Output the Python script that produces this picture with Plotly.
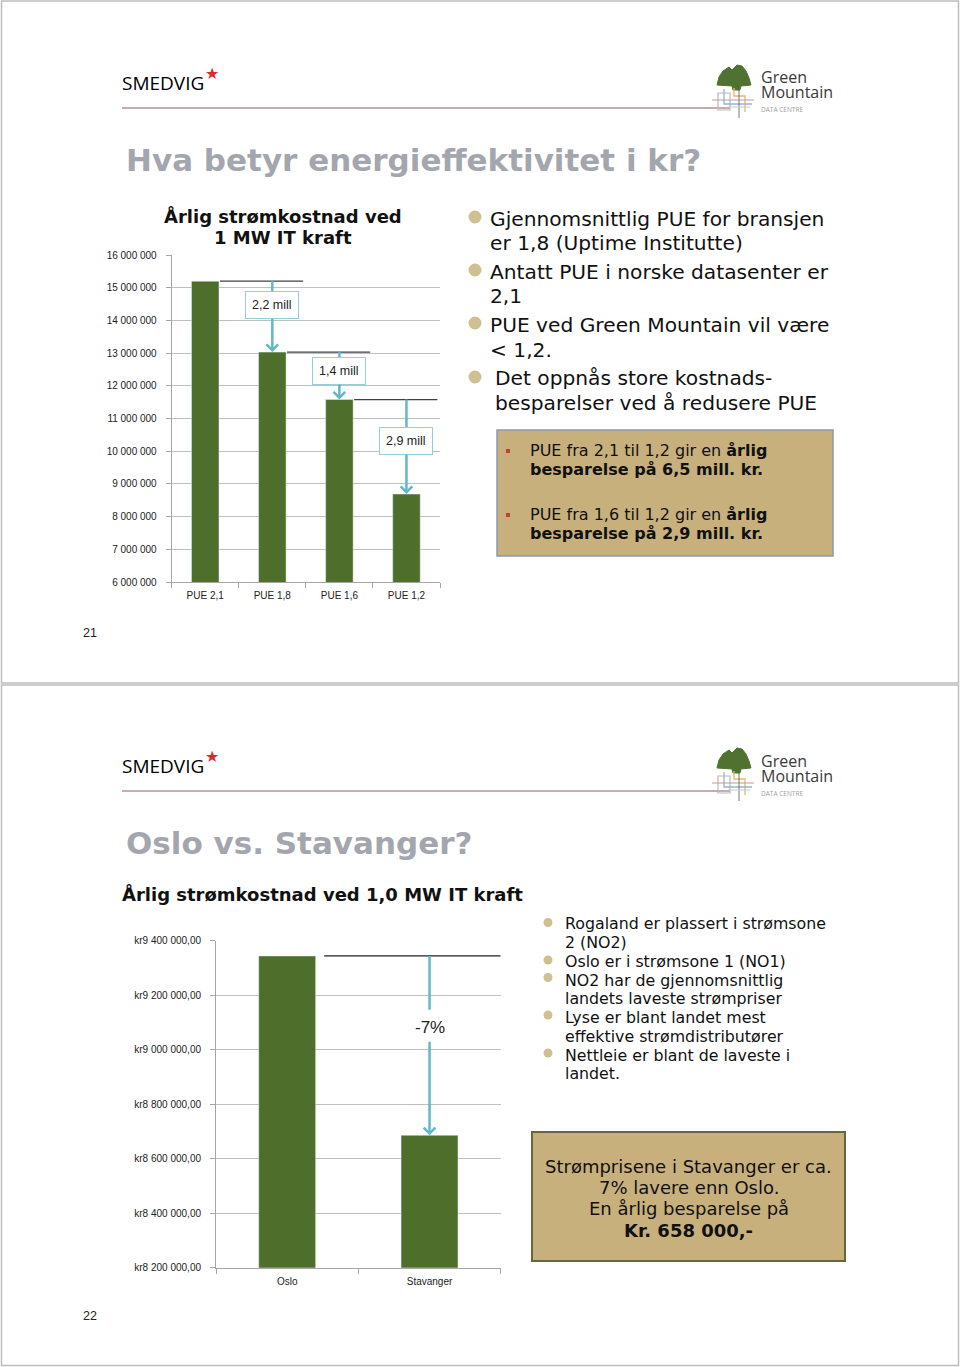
import plotly.graph_objects as go

W, H = 960, 1367

# ---------------- data: slide 1 ----------------
pue_labels = ["PUE 2,1", "PUE 1,8", "PUE 1,6", "PUE 1,2"]
pue_cost = [15_200_000, 13_030_000, 11_580_000, 8_690_000]
pue_saving_labels = ["2,2 mill", "1,4 mill", "2,9 mill"]

# ---------------- data: slide 2 ----------------
city_labels = ["Oslo", "Stavanger"]
city_cost = [9_344_000, 8_686_000]
city_change_label = "-7%"

# ---------------- style ----------------
GREEN = "#4E6F2B"
TAN = "#C8B07D"
DOT = "#CFC092"
CYAN = "#62B8C9"
TITLE_GRAY = "#A3A6AD"
VERD = "DejaVu Sans"
CAL = "Liberation Sans"
OPEN = "Open Sans"
OFF2 = 683


def px(x):
    return x / W


def py(y):
    return 1 - y / H


fig = go.Figure()

fig.add_trace(go.Bar(x=pue_labels, y=pue_cost, marker_color=GREEN, width=0.41,
                     xaxis="x", yaxis="y", showlegend=False, hoverinfo="skip"))
fig.add_trace(go.Bar(x=city_labels, y=city_cost, marker_color=GREEN, width=0.40,
                     xaxis="x2", yaxis="y2", showlegend=False, hoverinfo="skip"))

axis_common = dict(showline=True, linecolor="#A6A6A6", linewidth=1, ticks="outside",
                   ticklen=5, tickcolor="#A6A6A6", zeroline=False, fixedrange=True,
                   automargin=False)

fig.update_layout(
    width=W, height=H, margin=dict(l=0, r=0, t=0, b=0, pad=0, autoexpand=False),
    autosize=False, showlegend=False,
    paper_bgcolor="white", plot_bgcolor="white",
    separators=", ",
    xaxis=dict(domain=[px(171.7), px(440)], anchor="y", type="category", range=[-0.5, 3.5],
               tickson="boundaries", showgrid=False, ticklabelstandoff=4,
               tickfont=dict(family=CAL, size=10, color="#222"), **axis_common),
    yaxis=dict(domain=[py(582), py(255)], anchor="x", range=[6_000_000, 16_000_000],
               tick0=6_000_000, dtick=1_000_000, tickformat=",d", showgrid=True,
               gridcolor="#BFBFBF", ticklabelstandoff=7,
               tickfont=dict(family=CAL, size=10, color="#222"), **axis_common),
    xaxis2=dict(domain=[px(216), px(500.7)], anchor="y2", type="category", range=[-0.5, 1.5],
                tickson="boundaries", showgrid=False, ticklabelstandoff=4,
                tickfont=dict(family=CAL, size=10, color="#222"), **axis_common),
    yaxis2=dict(domain=[py(1267.7), py(940.7)], anchor="x2", range=[8_200_000, 9_400_000],
                tick0=8_200_000, dtick=200_000, tickprefix="kr", showtickprefix="all",
                tickformat=",.2f", showgrid=True, gridcolor="#BFBFBF", ticklabelstandoff=7,
                tickfont=dict(family=CAL, size=10, color="#222"), **axis_common),
)

shapes = []
annotations = []


def text(x, y, t, size, color="#111", family=VERD, xanchor="left", align="left", yanchor="middle"):
    dx = -3 if xanchor == "left" else 0
    annotations.append(dict(xref="paper", yref="paper", x=px(x + dx), y=py(y), text=t,
                            showarrow=False, xanchor=xanchor, yanchor=yanchor, align=align,
                            font=dict(family=family, size=size, color=color)))


def lines(x, ys, texts, size, color="#111", family=VERD, xanchor="left"):
    for yy, t in zip(ys, texts):
        text(x, yy, t, size, color, family, xanchor=xanchor,
             align=xanchor if xanchor != "center" else "center")


def pline(x0, y0, x1, y1, color, width=1.0):
    shapes.append(dict(type="line", xref="paper", yref="paper", x0=px(x0), y0=py(y0),
                       x1=px(x1), y1=py(y1), line=dict(color=color, width=width)))


def prect(x0, y0, x1, y1, fill, line, width=1.0):
    shapes.append(dict(type="rect", xref="paper", yref="paper", x0=px(x0), y0=py(y0),
                       x1=px(x1), y1=py(y1), fillcolor=fill, line=dict(color=line, width=width),
                       layer="below"))


def pcircle(cx, cy, r, fill):
    shapes.append(dict(type="circle", xref="paper", yref="paper", x0=px(cx - r), y0=py(cy + r),
                       x1=px(cx + r), y1=py(cy - r), fillcolor=fill, line=dict(width=0)))


def ppath(points, fill=None, line=None, width=1.0, closed=True):
    d = "M " + " L ".join(f"{px(a):.5f},{py(b):.5f}" for a, b in points)
    if closed:
        d += " Z"
    s = dict(type="path", xref="paper", yref="paper", path=d,
             line=dict(color=line or "rgba(0,0,0,0)", width=width))
    if fill:
        s["fillcolor"] = fill
    shapes.append(s)


# slide borders
prect(1.5, 1, 958.5, 683, "rgba(0,0,0,0)", "#BDBDBD", 1.5)
prect(1.5, 685, 958.5, 1365.5, "rgba(0,0,0,0)", "#BDBDBD", 1.5)


def header(off):
    text(122.5, 83 + off, "SMEDVIG", 19, "#000000", OPEN)
    text(211.5, 73 + off, "★", 16, "#E3262B", VERD, xanchor="center")
    pline(122, 108 + off, 730, 108 + off, "#B39090", 1.6)
    # Green Mountain logo
    ppath([(717, 85 + off), (719, 77 + off), (723, 71 + off), (729, 67 + off), (732, 70 + off),
           (737, 65 + off), (742, 66 + off), (746, 71 + off), (749, 78 + off), (751, 85 + off),
           (741, 86 + off), (740, 90 + off), (733, 90 + off), (732, 86 + off)],
          fill="#4F7230", line="#4F7230", width=1)
    ppath([(718, 101 + off), (718, 93 + off), (730, 93 + off), (730, 110 + off),
           (718, 110 + off), (718, 101 + off)], line="#B9B9B9", width=1.2, closed=False)
    ppath([(734, 88 + off), (734, 96 + off), (745, 96 + off), (745, 112 + off)],
          line="#E8B66A", width=1.3, closed=False)
    ppath([(724, 89 + off), (724, 104 + off), (752, 104 + off)],
          line="#8FB6D6", width=1.3, closed=False)
    pline(712, 100 + off, 754, 100 + off, "#C49A9A", 1.2)
    pline(739, 90 + off, 739, 118 + off, "#555555", 0.8)
    pline(728, 107 + off, 750, 107 + off, "#C8C8C8", 1.0)
    text(762, 90.5 + off,
         "<span style='font-size:16px'>Green</span><br>"
         "<span style='font-size:16px'>Mountain</span><br>"
         "<span style='font-size:6.5px;color:#A0A0A0'>DATA CENTRE</span>",
         11.3, "#3A3A3A", OPEN)


header(0)
header(OFF2)

# ---------------- slide 1 ----------------
text(127, 160, "<b>Hva betyr energieffektivitet i kr?</b>", 31, TITLE_GRAY, VERD)
lines(283, [216, 237], ["<b>Årlig strømkostnad ved</b>", "<b>1 MW IT kraft</b>"], 18,
      "#111", VERD, xanchor="center")

bullets1 = [
    (491, [219, 243], 217, ["Gjennomsnittlig PUE for bransjen", "er 1,8 (Uptime Institutte)"]),
    (491, [272, 296], 270, ["Antatt PUE i norske datasenter er", "2,1"]),
    (491, [325, 350], 323, ["PUE ved Green Mountain vil være", "&lt; 1,2."]),
    (496, [378, 403], 377, ["Det oppnås store kostnads-", "besparelser ved å redusere PUE"]),
]
for bx, bys, dy, ts in bullets1:
    pcircle(475, dy, 6.5, DOT)
    lines(bx, bys, ts, 20.2, "#111", VERD)

prect(497, 430, 833, 556, TAN, "#8C9AAA", 1.5)
for ys, ts in [([451, 469], ["PUE fra 2,1 til 1,2 gir en <b>årlig</b>", "<b>besparelse på 6,5 mill. kr.</b>"]),
               ([515, 533], ["PUE fra 1,6 til 1,2 gir en <b>årlig</b>", "<b>besparelse på 2,9 mill. kr.</b>"])]:
    shapes.append(dict(type="rect", xref="paper", yref="paper", x0=px(506), x1=px(510),
                       y0=py(ys[0] + 2), y1=py(ys[0] - 2), fillcolor="#B4463E", line=dict(width=0)))
    lines(531, ys, ts, 16, "#111", VERD)

text(89.5, 633, "21", 12.5, "#222", CAL, xanchor="center")

# chart 1 reference lines + arrows
label_frac = [0.34, 0.40, 0.44]
for i in range(3):
    top = pue_cost[i]
    nxt = pue_cost[i + 1]
    ly = top - label_frac[i] * (top - nxt)
    shapes.append(dict(type="line", xref="x", yref="y", x0=i + 0.22, x1=i + 1.46, y0=top, y1=top,
                       line=dict(color="#404040", width=1.3)))
    shapes.append(dict(type="line", xref="x", yref="y", x0=i + 1, x1=i + 1, y0=top, y1=ly,
                       line=dict(color=CYAN, width=2.5)))
    annotations.append(dict(xref="x", yref="y", axref="x", ayref="y", x=i + 1, y=nxt,
                            ax=i + 1, ay=ly, text=pue_saving_labels[i], showarrow=True,
                            arrowhead=4, arrowsize=0.9, arrowwidth=2.5, arrowcolor=CYAN,
                            standoff=0, bgcolor="white", bordercolor="#93CFDA", borderwidth=1,
                            borderpad=6, font=dict(family=CAL, size=12.5, color="#222")))

# ---------------- slide 2 ----------------
text(127, 843, "<b>Oslo vs. Stavanger?</b>", 31, TITLE_GRAY, VERD)
text(123, 894, "<b>Årlig strømkostnad ved 1,0 MW IT kraft</b>", 18, "#111", VERD)

bullets2 = ["Rogaland er plassert i strømsone", "2 (NO2)", "Oslo er i strømsone 1 (NO1)",
            "NO2 har de gjennomsnittlig", "landets laveste strømpriser",
            "Lyse er blant landet mest", "effektive strømdistributører",
            "Nettleie er blant de laveste i", "landet."]
lines(566, [923, 942, 961, 980, 998, 1017, 1036, 1055, 1073], bullets2, 15.8, "#111", VERD)
for dy in [922.5, 960, 977.5, 1015, 1053]:
    pcircle(548, dy, 4.5, DOT)

prect(532, 1132, 845, 1261, TAN, "#5E6B3C", 2)
lines(688.5, [1166, 1187, 1208, 1230],
      ["Strømprisene i Stavanger er ca.", "7% lavere enn Oslo.", "En årlig besparelse på",
       "<b>Kr. 658 000,-</b>"], 18, "#111", VERD, xanchor="center")

text(90, 1316, "22", 12.5, "#222", CAL, xanchor="center")

# chart 2 reference line + arrow
c_top, c_low = city_cost
diff = c_top - c_low
shapes.append(dict(type="line", xref="x2", yref="y2", x0=0.26, x1=1.5, y0=c_top, y1=c_top,
                   line=dict(color="#202020", width=1.3)))
shapes.append(dict(type="line", xref="x2", yref="y2", x0=1, x1=1, y0=c_top, y1=c_top - 0.30 * diff,
                   line=dict(color=CYAN, width=2.5)))
annotations.append(dict(xref="x2", yref="y2", axref="x2", ayref="y2", x=1, y=c_low,
                        ax=1, ay=c_top - 0.40 * diff, text=city_change_label, showarrow=True,
                        arrowhead=4, arrowsize=0.9, arrowwidth=2.5, arrowcolor=CYAN, standoff=0,
                        borderpad=4, font=dict(family=CAL, size=17, color="#222")))

fig.update_layout(shapes=shapes, annotations=annotations)
fig.write_html("out.html",
               post_script="document.body.style.margin='0';document.body.style.padding='0';"
                           "document.documentElement.style.overflow='hidden';")
